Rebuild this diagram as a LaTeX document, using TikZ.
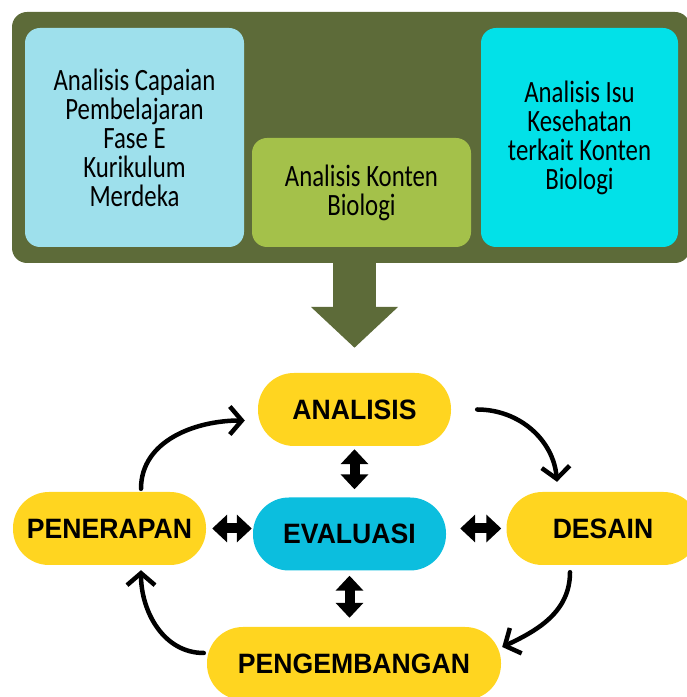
\documentclass[tikz,border=0pt]{standalone}
\usepackage{fontspec}
\setmainfont[FakeStretch=0.8]{Carlito}
\newfontfamily\stagefont[FakeStretch=0.95]{Liberation Sans}
\usetikzlibrary{arrows.meta}
\definecolor{panelgreen}{HTML}{5D6B39}
\definecolor{capaianblue}{HTML}{9EE0EC}
\definecolor{kontengreen}{HTML}{A4C14A}
\definecolor{isucyan}{HTML}{02E1E8}
\definecolor{stageyellow}{HTML}{FFD520}
\definecolor{evalcyan}{HTML}{0CBEDE}
\begin{document}
\begin{tikzpicture}[>=latex,line join=bevel,
  topbox/.style={rectangle,rounded corners=15bp,inner sep=0bp,align=center,font=\fontsize{31bp}{29bp}\selectfont},
  stagebox/.style={rectangle,rounded corners=36bp,minimum width=193bp,minimum height=73bp,inner sep=0bp,fill=stageyellow,font=\stagefont\bfseries\fontsize{28bp}{30bp}\selectfont},
  cyclearrow/.style={black,line width=4.5bp,line cap=round,-{Straight Barb[length=12bp,width=28bp]}},
  twoway/.style={black,line width=10bp,{Triangle[length=15bp,width=27bp]}-{Triangle[length=15bp,width=27bp]}},
]
%%
\useasboundingbox (0bp,0bp) rectangle (687bp,697bp);
\clip (0bp,0bp) rectangle (687bp,697bp);
\node (node_panel) at (351bp,559.5bp) [rectangle,rounded corners=15bp,fill=panelgreen,minimum width=678bp,minimum height=251bp] {};
  \node (node_capaian) at (134.5bp,559.5bp) [topbox,fill=capaianblue,minimum width=219bp,minimum height=219bp] {Analisis Capaian\\Pembelajaran\\Fase E\\Kurikulum\\Merdeka};
  \node (node_konten) at (361.5bp,504.5bp) [topbox,fill=kontengreen,minimum width=219bp,minimum height=109bp] {Analisis Konten\\Biologi};
  \node (node_isu) at (579.5bp,559.5bp) [topbox,fill=isucyan,minimum width=197bp,minimum height=219bp] {Analisis Isu\\Kesehatan\\terkait Konten\\Biologi};
  \node (node_analisis) at (354.5bp,287.5bp) [stagebox] {ANALISIS};
  \node (node_penerapan) at (109.5bp,168.5bp) [stagebox] {PENERAPAN};
  \node (node_evaluasi) at (349.5bp,163bp) [stagebox,fill=evalcyan] {EVALUASI};
  \node (node_desain) at (603bp,168.5bp) [stagebox] {DESAIN};
  \node (node_pengembangan) at (354bp,33.5bp) [stagebox,minimum width=294bp] {PENGEMBANGAN};
  \draw [panelgreen,line width=43bp,-{Triangle[length=41bp,width=85bp]},shorten >=25bp] ([yshift=2bp]node_panel.south -| node_analisis.north) -- (node_analisis.north);
  \draw [cyclearrow] ([xshift=31.5bp,yshift=3bp]node_penerapan.north) to[out=90,in=180] ([xshift=-13bp,yshift=-11bp]node_analisis.west);
  \draw [cyclearrow] ([xshift=26bp]node_analisis.east) to[out=0,in=95] ([xshift=-46bp,yshift=10bp]node_desain.north);
  \draw [cyclearrow] ([xshift=-33bp,yshift=-7bp]node_desain.south) to[out=-90,in=25] ([xshift=1bp,yshift=16.5bp]node_pengembangan.east);
  \draw [cyclearrow] ([xshift=-3bp,yshift=10.5bp]node_pengembangan.west) to[out=180,in=-90] ([xshift=31.5bp,yshift=-5bp]node_penerapan.south);
  \draw [twoway,shorten <=3bp,shorten >=8bp] (node_analisis.south) -- (node_analisis.south |- node_evaluasi.north);
  \draw [twoway,shorten <=5bp,shorten >=9bp] (node_evaluasi.south) -- (node_evaluasi.south |- node_pengembangan.north);
  \draw [twoway,shorten <=6bp,shorten >=1bp] (node_penerapan.east) -- (node_penerapan.east -| node_evaluasi.west);
  \draw [twoway,shorten <=14bp,shorten >=5bp] (node_desain.west -| node_evaluasi.east) -- (node_desain.west);
%
\end{tikzpicture}
\end{document}
